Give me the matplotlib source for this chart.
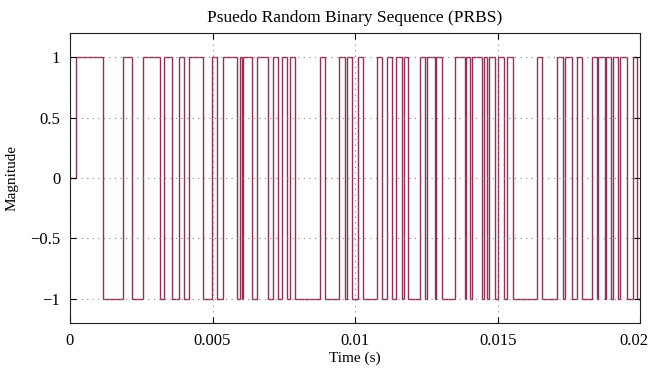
import matplotlib
matplotlib.use("Agg")
import matplotlib.pyplot as plt
import matplotlib.transforms as mtransforms
import numpy as np

# switching instants (ms), including start and end
edges_ms = [0, 0.200, 1.168, 1.870, 2.165, 2.572, 3.158, 3.298, 3.568, 3.835, 4.000, 4.186,
            4.677, 4.972, 5.147, 5.358, 5.849, 5.965, 6.025, 6.081, 6.375, 6.551,
            6.958, 7.133, 7.309, 7.428, 7.625, 7.719, 7.895, 8.772, 8.947, 9.449,
            9.649, 9.709, 9.884, 10.116, 10.291, 10.761, 10.937, 11.112, 11.288, 11.439,
            11.649, 11.719, 11.860, 12.281, 12.456, 12.537, 12.807, 12.842, 13.042, 13.509,
            13.860, 13.895, 14.035, 14.095, 14.446, 14.526, 14.632, 14.702, 14.912, 15.018,
            15.228, 15.333, 15.544, 16.386, 16.561, 17.088, 17.298, 17.368, 17.614, 17.789,
            17.965, 18.316, 18.491, 18.526, 18.772, 18.807, 18.982, 19.053, 19.228, 19.298,
            19.544, 19.754, 19.895, 20.0]

# level held in each interval
levels = [0,
          1, -1, 1, -1, 1, -1, 1, -1, 1, -1,
          1, -1, 1, -1, 1, -1, 1, -1, 1, -1,
          1, -1, 1, -1, 1, -1, 1, -1, 1, -1,
          1, -1, 1, -1, 1, -1, 1, -1, 1, -1,
          1, -1, 1, -1, 1, -1, 1, -1, 1, -1,
          1, -1, 1, -1, 1, -1, 1, -1, 1, -1,
          1, -1, 1, -1, 1, -1, 1, -1, 1, -1,
          1, -1, 1, -1, 1, -1, 1, -1, 1, -1,
          1, -1, 1, -1]

xticks = [0, 0.005, 0.01, 0.015, 0.02]
xticklabels = ["0", "0.005", "0.01", "0.015", "0.02"]
yticks = [-1, -0.5, 0, 0.5, 1]
yticklabels = ["\u22121", "\u22120.5", "0", "0.5", "1"]

plt.rcParams['font.family'] = ['Liberation Serif', 'DejaVu Serif']

fig = plt.figure(figsize=(6.51, 3.72), dpi=100)
ax = fig.add_axes([0.1075, 0.132, 0.876, 0.779])

edges_s = np.array(edges_ms) / 1000.0
ax.stairs(levels, edges_s, baseline=None, color='#962f55', linewidth=1.0)

ax.set_xlim(0, 0.02)
ax.set_ylim(-1.2, 1.2)
ax.set_xticks(xticks)
ax.set_xticklabels(xticklabels)
ax.set_yticks(yticks)
ax.set_yticklabels(yticklabels)
ax.tick_params(direction='in', top=True, right=True, labelsize=12, length=4, width=0.8, pad=7)
ax.grid(True, linestyle=(0, (1, 4)), color='#888888', linewidth=0.8)
for s in ax.spines.values():
    s.set_linewidth(0.8)
    s.set_color('#222222')

# keep the last x tick label inside the canvas
last = ax.get_xticklabels()[-1]
last.set_transform(last.get_transform() + mtransforms.ScaledTranslation(-6 / 100, 0, fig.dpi_scale_trans))

ax.set_title("Psuedo Random Binary Sequence (PRBS)", fontsize=12.5, pad=8)
ax.set_xlabel("Time (s)", fontsize=11, labelpad=2)
ax.set_ylabel("Magnitude", fontsize=11, labelpad=8)

fig.savefig("out.png", dpi=100)
